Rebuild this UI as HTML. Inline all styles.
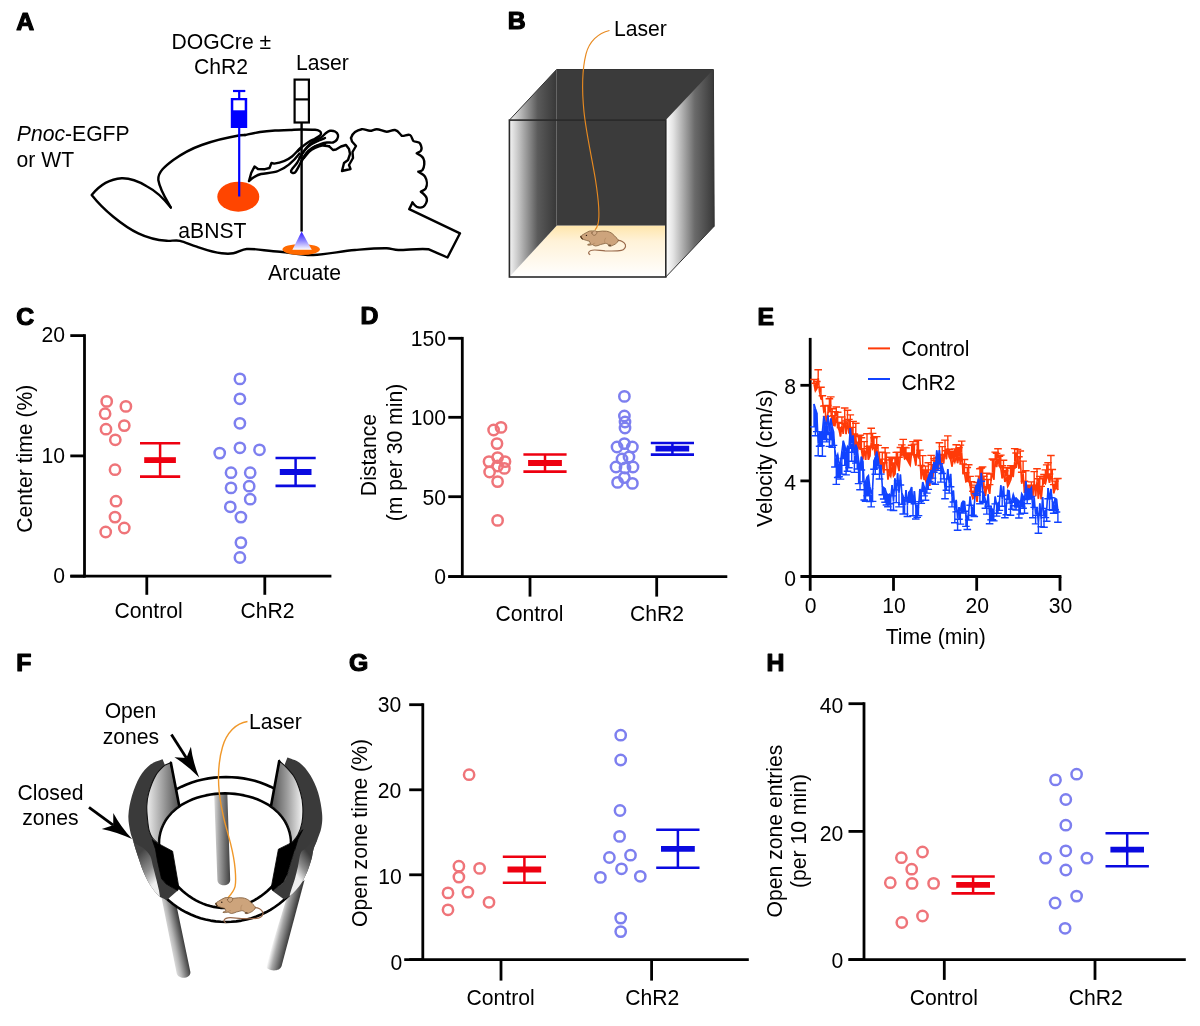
<!DOCTYPE html>
<html lang="en">
<head>
<meta charset="utf-8">
<title>Figure</title>
<style>
html,body{margin:0;padding:0;background:#fff;}
svg{display:block;}
svg text{font-family:"Liberation Sans",sans-serif;fill:#000;}
</style>
</head>
<body>
<svg width="1200" height="1026" viewBox="0 0 1200 1026">
<defs>
<linearGradient id="gLaser" x1="0" y1="0" x2="0" y2="1"><stop offset="0" stop-color="#2a14ff"/><stop offset="0.5" stop-color="#8c84ff"/><stop offset="1" stop-color="#ffffff"/></linearGradient>
<linearGradient id="gFloor" x1="0" y1="0" x2="0" y2="1"><stop offset="0" stop-color="#ffe6ac"/><stop offset="0.3" stop-color="#fff2d8"/><stop offset="1" stop-color="#ffffff"/></linearGradient>
<linearGradient id="gLeftWall" x1="0" y1="0" x2="1" y2="0"><stop offset="0" stop-color="#f4f4f4"/><stop offset="0.15" stop-color="#d0d0d0"/><stop offset="0.6" stop-color="#5a5a5a"/><stop offset="1" stop-color="#383838"/></linearGradient>
<linearGradient id="gRightWall" x1="0" y1="0" x2="1" y2="0"><stop offset="0" stop-color="#ffffff"/><stop offset="0.15" stop-color="#e4e4e4"/><stop offset="0.6" stop-color="#6a6a6a"/><stop offset="1" stop-color="#383838"/></linearGradient>
<linearGradient id="gPoleB" x1="0" y1="0" x2="1" y2="0"><stop offset="0" stop-color="#dcdcdc"/><stop offset="0.3" stop-color="#a4a4a4"/><stop offset="1" stop-color="#404040"/></linearGradient>
<linearGradient id="gPoleL" gradientUnits="userSpaceOnUse" x1="168" y1="940" x2="184" y2="936.5"><stop offset="0" stop-color="#e8e8e8"/><stop offset="0.35" stop-color="#b4b4b4"/><stop offset="1" stop-color="#2e2e2e"/></linearGradient>
<linearGradient id="gPoleR" gradientUnits="userSpaceOnUse" x1="276" y1="928" x2="292" y2="932"><stop offset="0" stop-color="#ffffff"/><stop offset="0.33" stop-color="#a8a8a8"/><stop offset="1" stop-color="#2c2c2c"/></linearGradient>
<linearGradient id="gInL" gradientUnits="userSpaceOnUse" x1="147" y1="0" x2="181" y2="0"><stop offset="0" stop-color="#ececec"/><stop offset="0.45" stop-color="#a2a2a2"/><stop offset="1" stop-color="#484848"/></linearGradient>
<linearGradient id="gInR" gradientUnits="userSpaceOnUse" x1="270" y1="0" x2="303" y2="0"><stop offset="0" stop-color="#484848"/><stop offset="0.55" stop-color="#a2a2a2"/><stop offset="1" stop-color="#f4f4f4"/></linearGradient>
<linearGradient id="gLowL" gradientUnits="userSpaceOnUse" x1="136" y1="856" x2="158" y2="880"><stop offset="0" stop-color="#444"/><stop offset="0.58" stop-color="#8e8e8e"/><stop offset="1" stop-color="#eeeeee"/></linearGradient>
<linearGradient id="gLowR" gradientUnits="userSpaceOnUse" x1="294" y1="872" x2="312" y2="858"><stop offset="0" stop-color="#eeeeee"/><stop offset="0.42" stop-color="#8e8e8e"/><stop offset="1" stop-color="#3c3c3c"/></linearGradient>
</defs>
<rect width="1200" height="1026" fill="#fff"/>
<g><text x="16.8" y="140.7" text-anchor="start" font-size="21.15" ><tspan font-style="italic">Pnoc</tspan>-EGFP</text><text x="16.6" y="166.5" text-anchor="start" font-size="21.15" >or WT</text><text x="221.3" y="49.0" text-anchor="middle" font-size="21.15" >DOGCre ±</text><text x="221.0" y="74.1" text-anchor="middle" font-size="21.15" >ChR2</text><text x="296.0" y="70.1" text-anchor="start" font-size="21.15" >Laser</text><text x="178.3" y="237.6" text-anchor="start" font-size="21.15" >aBNST</text><text x="304.5" y="279.9" text-anchor="middle" font-size="21.15" >Arcuate</text><ellipse cx="238.3" cy="196.7" rx="21" ry="15" fill="#ff4500"/><g fill="none" stroke="#000" stroke-width="2.4" stroke-linejoin="round" stroke-linecap="round"><path d="M170.8,207.5 C165,200 156,191 146.7,186.2 C138,181 130,178 121.7,178.3 C110,179 99,186 91.7,195 C98,203 105,210 113.3,216.7 C121,223 129,229 138.3,233.3 C147,237.5 157,240 166.7,240.8 C171,241.2 176,239.8 180,240.8 C185,242 191,245 196.7,246.7 C205,249.5 213,252.5 221.7,253.3 C226,253.8 229.5,253.9 233.3,253.3 C238,252.5 242,249.3 246.7,249 C257,248.4 268,251.5 280,251.7 C291,252.5 302,255.5 313.3,255 C327,254.4 341,251.2 355,250 C365,249.2 376,248.1 386.7,248.3 C391,248.4 394,250 398.3,250 C408,250 419,248.3 428.3,249.2 L447.5,257.5 L460,233.3 L409.2,209.2 L412.5,202.5"/><path d="M170.8,207.5 C166,199 160,190 158.3,180 C157.5,172 166,165.5 173.3,160 C182,153.8 191,148.8 201.7,145 C214,140.7 227,137.5 240,135.3 L245,135"/><path d="M245.0,135.0 C247.5,134.5 255.0,132.8 260.0,132.0 C265.0,131.2 270.0,130.8 275.0,130.5 C280.0,130.2 285.7,130.2 290.0,130.0 C294.3,129.8 296.8,129.5 301.0,129.5 C305.2,129.5 311.9,129.6 315.0,129.8 C318.1,130.1 318.5,130.4 319.5,131.0 C320.5,131.6 320.9,132.4 321.0,133.2 C321.1,134.0 320.8,134.8 319.8,135.7 C318.8,136.6 316.8,137.7 315.0,138.7 C313.2,139.7 311.0,140.6 309.0,141.8 C307.0,143.1 304.8,144.6 303.0,146.2 C301.2,147.8 298.8,150.4 298.0,151.2"/><path d="M249.0,181.0 L251.2,173.0 L254.5,166.5 L258.0,169.0 L265.0,169.2 L269.5,168.0 L271.5,163.0 L274.2,163.6 C280.0,162.8 287.0,160.5 292.0,156.5 C295.0,154.0 298.0,150.0 301.0,147.5 M249.0,181.0 C253.0,177.5 256.0,175.0 261.0,174.0 C267.0,173.0 274.0,172.8 278.0,171.0 C286.0,168.0 293.0,162.0 299.5,153.5"/><path d="M291.0,171.0 C291.3,169.4 295.2,165.8 297.0,163.0 C298.8,160.2 300.3,156.7 302.0,154.0 C303.7,151.3 305.2,149.1 307.0,147.0 C308.8,144.9 310.7,143.1 313.0,141.5 C315.3,139.9 318.8,138.9 321.0,137.5 C323.2,136.1 324.5,134.1 326.0,133.0 C327.5,131.9 328.5,131.1 330.0,130.8 C331.5,130.6 333.7,130.8 335.0,131.5 C336.3,132.2 337.7,133.7 338.0,135.0 C338.3,136.3 337.8,138.2 337.0,139.5 C336.2,140.8 334.7,142.0 333.0,142.5 C331.3,143.0 329.0,142.2 327.0,142.5 C325.0,142.8 323.0,143.3 321.0,144.0 C319.0,144.7 317.0,145.3 315.0,146.5 C313.0,147.7 310.8,149.2 309.0,151.0 C307.2,152.8 305.5,154.8 304.0,157.0 C302.5,159.2 301.5,161.4 300.0,164.0 C298.5,166.6 296.5,171.3 295.0,172.5 C293.5,173.7 290.7,172.6 291.0,171.0Z"/><path d="M299.5,158.0 C300.4,156.7 303.1,152.2 305.0,150.0 C306.9,147.8 308.7,146.1 311.0,144.5 C313.3,142.9 316.7,141.6 319.0,140.5 C321.3,139.4 324.0,138.4 325.0,138.0"/><path d="M301.0,162.0 C301.8,160.6 304.2,155.8 306.0,153.5 C307.8,151.2 309.8,149.4 312.0,148.0 C314.2,146.6 316.8,145.7 319.0,145.0 C321.2,144.3 324.0,144.2 325.0,144.0"/><path d="M304.0,158.0 C304.8,157.0 307.2,153.7 309.0,152.0 C310.8,150.3 312.8,149.1 315.0,148.0 C317.2,146.9 319.7,145.8 322.0,145.5 C324.3,145.2 327.8,146.1 329.0,146.2"/><path d="M329.0,146.2 L333.0,150.0 L336.0,149.5 L341.0,146.5 L346.0,145.0 L349.0,149.0 L350.0,154.0 L348.0,160.0 L344.0,163.0 L342.0,171.0 L350.5,169.0 L349.0,165.0 L353.0,158.0 L352.5,152.0 L356.0,146.0 L352.0,141.5 L351.0,138.0"/><path d="M351,138 C351.5,136 353,133.5 355,132 C357,130.5 359.5,129.6 361.7,129.2 C364.5,128.7 367,130.8 370,130.8 C372.5,130.8 374,129.2 376.7,129.2 C380,129.2 383.5,131.7 386.7,131.7 C389.5,131.7 392,129.7 395,130 C398.5,130.5 400,134.5 401.7,135.8 C404,136.5 407.5,134 410,135 C412,136 412,139.5 413.3,140.8 C415,142.3 419,141.5 420,143.3 C421.5,146 422,149 420.8,150.8 C419.8,152.3 417.5,152.3 416.7,153.3 C419,154.5 422,156 423.3,158.3 C425,161.5 424.5,167 422.5,170 C421.5,171.3 419.5,171.2 418.3,171.7 C420.5,173 423.7,174.5 425,176.7 C427,180 427.5,185 425.8,188.3 C424.8,190 422.3,190.7 420.8,191.7 C423,193.5 425.8,195.5 426.7,198.3 C427.5,201 425.7,205 423.3,206.7 C421.5,207.8 418.5,207.7 416.7,206.7 C415,205.7 413.8,204 412.5,202.5"/></g><g><line x1="239.2" y1="127" x2="239.2" y2="196.5" stroke="#0000ff" stroke-width="2.2"/><rect x="230.8" y="98" width="16.4" height="30" fill="#0000ff"/><rect x="233.3" y="100.3" width="11.4" height="10" fill="#fff"/><line x1="239.2" y1="91" x2="239.2" y2="99" stroke="#0000ff" stroke-width="2.2"/><line x1="233" y1="91" x2="245.3" y2="91" stroke="#0000ff" stroke-width="2.2"/></g><g stroke="#000" fill="none" stroke-width="2.2"><rect x="294.6" y="79.6" width="14.3" height="42.9" fill="#fff"/><line x1="294.6" y1="99.4" x2="308.9" y2="99.4"/><line x1="301.6" y1="123" x2="301.6" y2="231.6" stroke-width="2.4"/></g><ellipse cx="301.2" cy="249.5" rx="18.7" ry="5.5" fill="#ff6a00"/><polygon points="301.6,231.5 292.4,249.8 311.8,249.8" fill="url(#gLaser)"/></g>
<g><rect x="556.6" y="69.5" width="156.8" height="156.2" fill="#3b3b3b"/><polygon points="509.4,277.0 556.6,225.7 665.8,225.7 665.8,277.0" fill="url(#gFloor)"/><polygon points="509.4,120.1 556.6,69.5 556.6,225.7 509.4,277.0" fill="url(#gLeftWall)"/><polygon points="665.8,120.1 713.4,69.5 714.1999999999999,226.2 665.8,277.0" fill="url(#gRightWall)"/><rect x="509.4" y="120.1" width="156.4" height="156.9" fill="none" stroke="#2a2a2a" stroke-width="1.6"/><polyline points="509.4,120.1 556.6,69.5 713.4,69.5 714.1999999999999,226.2 665.8,277.0" fill="none" stroke="#333" stroke-width="1"/><path d="M609.5,30.5 C598,33 589,42 586,54 C581.5,72 582,92 584,112 C586.5,135 592,158 595.5,180 C598,196 600.5,214 598,224 C597.2,227 596,228.8 595,230" fill="none" stroke="#e88a20" stroke-width="1.15"/><g transform="translate(570,220) scale(0.058343057176196034)" stroke-linejoin="round" stroke-linecap="round"><path d="M815,350 C870,345 930,380 950,425 C962,470 925,510 880,520 C800,538 690,530 600,530 C540,528 470,512 420,514 C370,516 330,530 320,555 C316,570 325,585 340,592" fill="none" stroke="#9a6a4c" stroke-width="20"/><path d="M185,290 C190,268 210,255 232,245 C262,226 295,205 330,192 C360,184 395,186 425,196 C450,202 465,200 482,198 C530,190 580,186 622,192 C665,198 700,215 722,232 C750,255 772,280 792,302 C812,322 830,335 828,352 C826,372 812,384 800,392 C785,408 765,422 742,430 C722,440 700,452 680,446 C665,440 660,425 650,415 C630,402 612,398 598,402 C570,408 545,415 520,422 C495,432 468,446 440,446 C420,444 400,432 385,422 C360,428 325,436 302,428 C298,418 330,410 352,408 C345,392 338,375 330,362 C300,355 268,348 240,336 C215,332 192,315 185,290 Z" fill="#cda47c" stroke="#7b5836" stroke-width="13"/><path d="M600,400 C585,370 590,335 610,310 M385,420 C395,405 410,398 425,398" fill="none" stroke="#a9805a" stroke-width="9"/><path d="M375,222 C385,190 425,170 455,195 C470,212 455,250 425,262 C400,268 380,250 375,222 Z" fill="#d2ab86" stroke="#7b5836" stroke-width="11"/><circle cx="282" cy="264" r="12" fill="#2a1a10"/><path d="M186,280 C192,300 200,318 214,326" fill="none" stroke="#4a3018" stroke-width="18"/><ellipse cx="680" cy="436" rx="26" ry="16" fill="#6e5238"/></g><text x="614.0" y="35.5" text-anchor="start" font-size="21.15" >Laser</text></g>
<g><g stroke="#000" stroke-width="2.8" fill="none"><line x1="84.5" y1="334.2" x2="84.5" y2="577.6"/><line x1="70.3" y1="576.2" x2="331.4" y2="576.2"/><line x1="70.3" y1="335.6" x2="84.5" y2="335.6"/><line x1="70.3" y1="455.9" x2="84.5" y2="455.9"/><line x1="70.3" y1="576.2" x2="84.5" y2="576.2"/><line x1="146.8" y1="576.2" x2="146.8" y2="594.8000000000001"/><line x1="264.8" y1="576.2" x2="264.8" y2="594.8000000000001"/></g><text x="65.0" y="341.9" text-anchor="end" font-size="21.15" >20</text><text x="65.0" y="462.6" text-anchor="end" font-size="21.15" >10</text><text x="65.0" y="583.4" text-anchor="end" font-size="21.15" >0</text><text x="148.6" y="617.5" text-anchor="middle" font-size="21.15" >Control</text><text x="267.6" y="617.5" text-anchor="middle" font-size="21.15" >ChR2</text><text transform="translate(32.0,458.7) rotate(-90)" text-anchor="middle" font-size="21.15">Center time (%)</text><g stroke="#ef7479" fill="none" stroke-width="2.5"><circle cx="106.7" cy="401.4" r="5.15"/><circle cx="125.9" cy="406.4" r="5.15"/><circle cx="105.1" cy="413.7" r="5.15"/><circle cx="124.3" cy="425.6" r="5.15"/><circle cx="106.0" cy="429.2" r="5.15"/><circle cx="115.3" cy="439.8" r="5.15"/><circle cx="115.0" cy="469.7" r="5.15"/><circle cx="116.0" cy="501.2" r="5.15"/><circle cx="115.0" cy="517.1" r="5.15"/><circle cx="124.3" cy="528.0" r="5.15"/><circle cx="105.7" cy="532.0" r="5.15"/></g><g stroke="#7d7fef" fill="none" stroke-width="2.5"><circle cx="239.9" cy="378.9" r="5.15"/><circle cx="239.9" cy="398.8" r="5.15"/><circle cx="239.9" cy="423.3" r="5.15"/><circle cx="239.9" cy="447.8" r="5.15"/><circle cx="259.5" cy="449.8" r="5.15"/><circle cx="219.7" cy="453.1" r="5.15"/><circle cx="231.0" cy="472.7" r="5.15"/><circle cx="250.2" cy="472.7" r="5.15"/><circle cx="231.0" cy="487.9" r="5.15"/><circle cx="249.2" cy="486.2" r="5.15"/><circle cx="250.2" cy="499.2" r="5.15"/><circle cx="230.3" cy="506.8" r="5.15"/><circle cx="240.9" cy="517.1" r="5.15"/><circle cx="240.9" cy="542.6" r="5.15"/><circle cx="239.9" cy="557.5" r="5.15"/></g><g stroke="#ee0010" fill="none"><line x1="160.1" y1="443.2" x2="160.1" y2="476.6" stroke-width="2.5"/><line x1="140.0" y1="443.2" x2="180.2" y2="443.2" stroke-width="2.5"/><line x1="140.0" y1="476.6" x2="180.2" y2="476.6" stroke-width="2.6"/><line x1="144.2" y1="460.1" x2="175.9" y2="460.1" stroke-width="5.8"/></g><g stroke="#0a0ae0" fill="none"><line x1="295.6" y1="458.1" x2="295.6" y2="485.9" stroke-width="2.5"/><line x1="275.5" y1="458.1" x2="315.7" y2="458.1" stroke-width="2.5"/><line x1="275.5" y1="485.9" x2="315.7" y2="485.9" stroke-width="2.6"/><line x1="279.8" y1="472.0" x2="311.5" y2="472.0" stroke-width="5.8"/></g></g>
<g><g stroke="#000" stroke-width="2.8" fill="none"><line x1="462.3" y1="336.9" x2="462.3" y2="578.0"/><line x1="448.3" y1="576.6" x2="727.3" y2="576.6"/><line x1="448.3" y1="338.3" x2="462.3" y2="338.3"/><line x1="448.3" y1="417.3" x2="462.3" y2="417.3"/><line x1="448.3" y1="496.7" x2="462.3" y2="496.7"/><line x1="448.3" y1="576.6" x2="462.3" y2="576.6"/><line x1="530" y1="576.6" x2="530" y2="596.6"/><line x1="656.7" y1="576.6" x2="656.7" y2="596.6"/></g><text x="446.0" y="345.7" text-anchor="end" font-size="21.15" >150</text><text x="446.0" y="425.3" text-anchor="end" font-size="21.15" >100</text><text x="446.0" y="504.7" text-anchor="end" font-size="21.15" >50</text><text x="446.0" y="584.1" text-anchor="end" font-size="21.15" >0</text><text x="529.5" y="620.7" text-anchor="middle" font-size="21.15" >Control</text><text x="657.1" y="620.7" text-anchor="middle" font-size="21.15" >ChR2</text><text transform="translate(375.5,455.0) rotate(-90)" text-anchor="middle" font-size="21.15">Distance</text><text transform="translate(401.7,452.5) rotate(-90)" text-anchor="middle" font-size="21.15">(m per 30 min)</text><g stroke="#ef7479" fill="none" stroke-width="2.5"><circle cx="501.0" cy="427.4" r="5.15"/><circle cx="493.6" cy="430.0" r="5.15"/><circle cx="497.0" cy="443.6" r="5.15"/><circle cx="497.6" cy="457.6" r="5.15"/><circle cx="489.0" cy="461.6" r="5.15"/><circle cx="505.0" cy="461.6" r="5.15"/><circle cx="497.6" cy="466.0" r="5.15"/><circle cx="489.6" cy="472.0" r="5.15"/><circle cx="504.4" cy="468.4" r="5.15"/><circle cx="497.6" cy="481.6" r="5.15"/><circle cx="497.6" cy="520.4" r="5.15"/></g><g stroke="#7d7fef" fill="none" stroke-width="2.5"><circle cx="624.4" cy="396.4" r="5.15"/><circle cx="624.4" cy="416.0" r="5.15"/><circle cx="625.0" cy="422.0" r="5.15"/><circle cx="625.0" cy="428.0" r="5.15"/><circle cx="624.4" cy="443.6" r="5.15"/><circle cx="617.0" cy="447.0" r="5.15"/><circle cx="632.4" cy="447.0" r="5.15"/><circle cx="622.0" cy="459.0" r="5.15"/><circle cx="629.0" cy="457.0" r="5.15"/><circle cx="616.0" cy="467.0" r="5.15"/><circle cx="633.0" cy="467.0" r="5.15"/><circle cx="625.0" cy="468.0" r="5.15"/><circle cx="624.4" cy="477.6" r="5.15"/><circle cx="617.6" cy="482.4" r="5.15"/><circle cx="632.4" cy="483.4" r="5.15"/></g><g stroke="#ee0010" fill="none"><line x1="545.0" y1="454.4" x2="545.0" y2="471.6" stroke-width="2.5"/><line x1="523.4" y1="454.4" x2="566.6" y2="454.4" stroke-width="2.5"/><line x1="523.4" y1="471.6" x2="566.6" y2="471.6" stroke-width="2.6"/><line x1="528.1" y1="463.0" x2="561.9" y2="463.0" stroke-width="5.8"/></g><g stroke="#0a0ae0" fill="none"><line x1="672.4" y1="443.0" x2="672.4" y2="454.6" stroke-width="2.5"/><line x1="650.8" y1="443.0" x2="694.0" y2="443.0" stroke-width="2.5"/><line x1="650.8" y1="454.6" x2="694.0" y2="454.6" stroke-width="2.6"/><line x1="655.5" y1="448.6" x2="689.2" y2="448.6" stroke-width="5.8"/></g></g>
<g><g stroke="#000" stroke-width="2.8" fill="none"><line x1="810.2" y1="337.9" x2="810.2" y2="590.8"/><line x1="800.4" y1="576.5" x2="1061.4" y2="576.5"/><line x1="800.4" y1="480.9" x2="810.2" y2="480.9"/><line x1="800.4" y1="385.3" x2="810.2" y2="385.3"/><line x1="893.5" y1="576.5" x2="893.5" y2="590.8"/><line x1="976.7" y1="576.5" x2="976.7" y2="590.8"/><line x1="1060.0" y1="576.5" x2="1060.0" y2="590.8"/></g><text x="796.0" y="586.4" text-anchor="end" font-size="21.15" >0</text><text x="796.0" y="489.7" text-anchor="end" font-size="21.15" >4</text><text x="796.0" y="394.2" text-anchor="end" font-size="21.15" >8</text><text x="810.7" y="612.9" text-anchor="middle" font-size="21.15" >0</text><text x="894.0" y="612.9" text-anchor="middle" font-size="21.15" >10</text><text x="977.2" y="612.9" text-anchor="middle" font-size="21.15" >20</text><text x="1060.5" y="612.9" text-anchor="middle" font-size="21.15" >30</text><text x="935.8" y="644.2" text-anchor="middle" font-size="21.15" >Time (min)</text><text transform="translate(772.3,458.2) rotate(-90)" text-anchor="middle" font-size="21.15">Velocity (cm/s)</text><g stroke="#ff3a08" fill="none" stroke-width="1.6" stroke-linejoin="miter"><path d="M814.0,384.1 L815.4,391.0 L816.8,388.8 L818.2,377.3 L819.6,392.2 L821.0,399.1 L822.4,399.9 L823.8,411.9 L825.2,410.2 L826.6,425.6 L828.0,412.5 L829.4,411.6 L830.8,410.3 L832.2,422.1 L833.5,425.4 L834.9,425.8 L836.3,416.5 L837.7,427.1 L839.1,430.1 L840.5,436.5 L841.9,425.8 L843.3,433.9 L844.7,417.6 L846.1,434.1 L847.5,421.7 L848.9,433.0 L850.3,433.0 L851.7,439.5 L853.1,433.6 L854.4,449.0 L855.8,436.8 L857.2,452.4 L858.6,445.6 L860.0,449.2 L861.4,449.3 L862.8,459.5 L864.2,449.7 L865.6,459.9 L867.0,444.3 L868.4,459.8 L869.8,456.4 L871.2,442.5 L872.6,448.8 L874.0,446.4 L875.3,455.6 L876.7,448.9 L878.1,455.3 L879.5,462.0 L880.9,466.5 L882.3,466.1 L883.7,473.2 L885.1,460.9 L886.5,461.8 L887.9,479.5 L889.3,473.6 L890.7,476.4 L892.1,465.9 L893.5,476.2 L894.9,474.3 L896.3,462.2 L897.6,464.8 L899.0,471.1 L900.4,455.3 L901.8,455.6 L903.2,453.0 L904.6,459.0 L906.0,458.1 L907.4,460.2 L908.8,462.9 L910.2,465.3 L911.6,453.1 L913.0,453.1 L914.4,457.9 L915.8,465.5 L917.2,450.1 L918.5,457.6 L919.9,459.3 L921.3,479.2 L922.7,468.8 L924.1,479.3 L925.5,479.8 L926.9,485.0 L928.3,473.3 L929.7,485.9 L931.1,467.1 L932.5,479.2 L933.9,467.9 L935.3,472.3 L936.7,469.7 L938.1,468.8 L939.4,456.5 L940.8,468.3 L942.2,455.2 L943.6,463.5 L945.0,450.5 L946.4,459.2 L947.8,447.5 L949.2,457.2 L950.6,459.5 L952.0,466.5 L953.4,458.8 L954.8,462.2 L956.2,456.9 L957.6,463.2 L959.0,455.9 L960.4,463.4 L961.7,452.7 L963.1,473.7 L964.5,473.7 L965.9,481.8 L967.3,481.2 L968.7,478.6 L970.1,485.9 L971.5,494.5 L972.9,498.6 L974.3,496.8 L975.7,493.4 L977.1,501.8 L978.5,486.0 L979.9,487.1 L981.3,481.4 L982.6,480.4 L984.0,488.5 L985.4,495.8 L986.8,486.9 L988.2,488.4 L989.6,493.8 L991.0,481.1 L992.4,472.4 L993.8,479.7 L995.2,460.8 L996.6,467.1 L998.0,458.5 L999.4,466.2 L1000.8,468.6 L1002.2,478.3 L1003.5,473.0 L1004.9,482.0 L1006.3,476.8 L1007.7,486.4 L1009.1,483.8 L1010.5,480.5 L1011.9,475.6 L1013.3,476.3 L1014.7,461.8 L1016.1,467.8 L1017.5,457.1 L1018.9,468.7 L1020.3,459.7 L1021.7,483.6 L1023.1,473.3 L1024.5,493.0 L1025.8,483.6 L1027.2,496.8 L1028.6,497.6 L1030.0,493.8 L1031.4,490.0 L1032.8,496.2 L1034.2,481.4 L1035.6,496.3 L1037.0,481.4 L1038.4,498.7 L1039.8,486.7 L1041.2,499.2 L1042.6,485.2 L1044.0,482.4 L1045.4,483.7 L1046.7,478.4 L1048.1,475.9 L1049.5,482.8 L1050.9,475.1 L1052.3,480.7 L1053.7,493.2 L1055.1,489.1 L1056.5,487.6 L1057.9,490.1"/><path d="M814.0,384.1V379.5M810.2,379.5H817.8M815.4,391.0V383.2M811.6,383.2H819.2M816.8,388.8V381.5M813.0,381.5H820.6M818.2,377.3V369.7M814.4,369.7H822.0M819.6,392.2V387.2M815.8,387.2H823.4M821.0,399.1V387.2M817.2,387.2H824.8M822.4,399.9V395.8M818.6,395.8H826.2M823.8,411.9V406.1M820.0,406.1H827.6M825.2,410.2V405.6M821.4,405.6H829.0M826.6,425.6V416.4M822.8,416.4H830.4M828.0,412.5V405.5M824.2,405.5H831.8M829.4,411.6V398.7M825.6,398.7H833.2M830.8,410.3V396.9M827.0,396.9H834.6M832.2,422.1V408.8M828.4,408.8H836.0M833.5,425.4V415.8M829.7,415.8H837.3M834.9,425.8V411.8M831.1,411.8H838.7M836.3,416.5V407.0M832.5,407.0H840.1M837.7,427.1V412.2M833.9,412.2H841.5M839.1,430.1V422.4M835.3,422.4H842.9M840.5,436.5V427.5M836.7,427.5H844.3M841.9,425.8V417.0M838.1,417.0H845.7M843.3,433.9V423.3M839.5,423.3H847.1M844.7,417.6V408.0M840.9,408.0H848.5M846.1,434.1V420.9M842.3,420.9H849.9M847.5,421.7V410.3M843.7,410.3H851.3M848.9,433.0V419.4M845.1,419.4H852.7M850.3,433.0V414.9M846.5,414.9H854.1M851.7,439.5V427.4M847.9,427.4H855.5M853.1,433.6V421.4M849.3,421.4H856.9M854.4,449.0V434.0M850.6,434.0H858.2M855.8,436.8V423.3M852.0,423.3H859.6M857.2,452.4V442.1M853.4,442.1H861.0M858.6,445.6V436.5M854.8,436.5H862.4M860.0,449.2V435.3M856.2,435.3H863.8M861.4,449.3V437.7M857.6,437.7H865.2M862.8,459.5V448.6M859.0,448.6H866.6M864.2,449.7V441.6M860.4,441.6H868.0M865.6,459.9V451.4M861.8,451.4H869.4M867.0,444.3V433.8M863.2,433.8H870.8M868.4,459.8V446.5M864.6,446.5H872.2M869.8,456.4V446.3M866.0,446.3H873.6M871.2,442.5V428.2M867.4,428.2H875.0M872.6,448.8V433.4M868.8,433.4H876.4M874.0,446.4V437.8M870.2,437.8H877.8M875.3,455.6V444.6M871.5,444.6H879.1M876.7,448.9V436.6M872.9,436.6H880.5M878.1,455.3V445.4M874.3,445.4H881.9M879.5,462.0V452.4M875.7,452.4H883.3M880.9,466.5V459.1M877.1,459.1H884.7M882.3,466.1V452.3M878.5,452.3H886.1M883.7,473.2V462.7M879.9,462.7H887.5M885.1,460.9V447.8M881.3,447.8H888.9M886.5,461.8V452.9M882.7,452.9H890.3M887.9,479.5V469.7M884.1,469.7H891.7M889.3,473.6V460.0M885.5,460.0H893.1M890.7,476.4V457.3M886.9,457.3H894.5M892.1,465.9V458.6M888.3,458.6H895.9M893.5,476.2V463.0M889.7,463.0H897.3M894.9,474.3V457.2M891.1,457.2H898.7M896.3,462.2V452.4M892.5,452.4H900.1M897.6,464.8V452.1M893.8,452.1H901.4M899.0,471.1V457.3M895.2,457.3H902.8M900.4,455.3V447.5M896.6,447.5H904.2M901.8,455.6V444.9M898.0,444.9H905.6M903.2,453.0V439.4M899.4,439.4H907.0M904.6,459.0V447.4M900.8,447.4H908.4M906.0,458.1V447.9M902.2,447.9H909.8M907.4,460.2V453.0M903.6,453.0H911.2M908.8,462.9V454.3M905.0,454.3H912.6M910.2,465.3V453.8M906.4,453.8H914.0M911.6,453.1V445.2M907.8,445.2H915.4M913.0,453.1V441.6M909.2,441.6H916.8M914.4,457.9V444.1M910.6,444.1H918.2M915.8,465.5V454.8M912.0,454.8H919.6M917.2,450.1V440.3M913.4,440.3H921.0M918.5,457.6V440.4M914.7,440.4H922.3M919.9,459.3V450.1M916.1,450.1H923.7M921.3,479.2V465.5M917.5,465.5H925.1M922.7,468.8V455.6M918.9,455.6H926.5M924.1,479.3V470.7M920.3,470.7H927.9M925.5,479.8V466.1M921.7,466.1H929.3M926.9,485.0V469.9M923.1,469.9H930.7M928.3,473.3V462.8M924.5,462.8H932.1M929.7,485.9V476.0M925.9,476.0H933.5M931.1,467.1V455.4M927.3,455.4H934.9M932.5,479.2V464.6M928.7,464.6H936.3M933.9,467.9V458.6M930.1,458.6H937.7M935.3,472.3V460.5M931.5,460.5H939.1M936.7,469.7V457.1M932.9,457.1H940.5M938.1,468.8V458.3M934.3,458.3H941.9M939.4,456.5V442.7M935.6,442.7H943.2M940.8,468.3V455.6M937.0,455.6H944.6M942.2,455.2V446.6M938.4,446.6H946.0M943.6,463.5V454.4M939.8,454.4H947.4M945.0,450.5V440.1M941.2,440.1H948.8M946.4,459.2V450.7M942.6,450.7H950.2M947.8,447.5V435.9M944.0,435.9H951.6M949.2,457.2V449.2M945.4,449.2H953.0M950.6,459.5V451.1M946.8,451.1H954.4M952.0,466.5V452.5M948.2,452.5H955.8M953.4,458.8V451.4M949.6,451.4H957.2M954.8,462.2V448.9M951.0,448.9H958.6M956.2,456.9V444.8M952.4,444.8H960.0M957.6,463.2V449.7M953.8,449.7H961.4M959.0,455.9V447.6M955.2,447.6H962.8M960.4,463.4V445.1M956.6,445.1H964.2M961.7,452.7V441.1M957.9,441.1H965.5M963.1,473.7V464.0M959.3,464.0H966.9M964.5,473.7V459.5M960.7,459.5H968.3M965.9,481.8V472.8M962.1,472.8H969.7M967.3,481.2V467.5M963.5,467.5H971.1M968.7,478.6V464.8M964.9,464.8H972.5M970.1,485.9V476.4M966.3,476.4H973.9M971.5,494.5V481.8M967.7,481.8H975.3M972.9,498.6V491.2M969.1,491.2H976.7M974.3,496.8V487.2M970.5,487.2H978.1M975.7,493.4V485.1M971.9,485.1H979.5M977.1,501.8V482.5M973.3,482.5H980.9M978.5,486.0V476.1M974.7,476.1H982.3M979.9,487.1V468.8M976.1,468.8H983.7M981.3,481.4V468.1M977.5,468.1H985.1M982.6,480.4V466.9M978.8,466.9H986.4M984.0,488.5V476.3M980.2,476.3H987.8M985.4,495.8V486.4M981.6,486.4H989.2M986.8,486.9V473.2M983.0,473.2H990.6M988.2,488.4V479.5M984.4,479.5H992.0M989.6,493.8V484.6M985.8,484.6H993.4M991.0,481.1V474.0M987.2,474.0H994.8M992.4,472.4V459.0M988.6,459.0H996.2M993.8,479.7V460.1M990.0,460.1H997.6M995.2,460.8V452.1M991.4,452.1H999.0M996.6,467.1V453.4M992.8,453.4H1000.4M998.0,458.5V448.8M994.2,448.8H1001.8M999.4,466.2V456.2M995.6,456.2H1003.2M1000.8,468.6V455.1M997.0,455.1H1004.6M1002.2,478.3V465.7M998.4,465.7H1006.0M1003.5,473.0V460.2M999.7,460.2H1007.3M1004.9,482.0V470.8M1001.1,470.8H1008.7M1006.3,476.8V467.6M1002.5,467.6H1010.1M1007.7,486.4V467.9M1003.9,467.9H1011.5M1009.1,483.8V475.4M1005.3,475.4H1012.9M1010.5,480.5V465.8M1006.7,465.8H1014.3M1011.9,475.6V468.3M1008.1,468.3H1015.7M1013.3,476.3V467.0M1009.5,467.0H1017.1M1014.7,461.8V448.6M1010.9,448.6H1018.5M1016.1,467.8V453.0M1012.3,453.0H1019.9M1017.5,457.1V449.4M1013.7,449.4H1021.3M1018.9,468.7V456.7M1015.1,456.7H1022.7M1020.3,459.7V451.0M1016.5,451.0H1024.1M1021.7,483.6V472.2M1017.9,472.2H1025.5M1023.1,473.3V461.1M1019.3,461.1H1026.9M1024.5,493.0V481.3M1020.7,481.3H1028.3M1025.8,483.6V470.7M1022.0,470.7H1029.6M1027.2,496.8V485.8M1023.4,485.8H1031.0M1028.6,497.6V485.5M1024.8,485.5H1032.4M1030.0,493.8V485.1M1026.2,485.1H1033.8M1031.4,490.0V481.9M1027.6,481.9H1035.2M1032.8,496.2V485.1M1029.0,485.1H1036.6M1034.2,481.4V471.6M1030.4,471.6H1038.0M1035.6,496.3V485.7M1031.8,485.7H1039.4M1037.0,481.4V468.7M1033.2,468.7H1040.8M1038.4,498.7V478.7M1034.6,478.7H1042.2M1039.8,486.7V476.4M1036.0,476.4H1043.6M1041.2,499.2V486.4M1037.4,486.4H1045.0M1042.6,485.2V477.9M1038.8,477.9H1046.4M1044.0,482.4V474.5M1040.2,474.5H1047.8M1045.4,483.7V469.9M1041.6,469.9H1049.2M1046.7,478.4V464.9M1042.9,464.9H1050.5M1048.1,475.9V462.8M1044.3,462.8H1051.9M1049.5,482.8V474.0M1045.7,474.0H1053.3M1050.9,475.1V455.5M1047.1,455.5H1054.7M1052.3,480.7V469.5M1048.5,469.5H1056.1M1053.7,493.2V484.6M1049.9,484.6H1057.5M1055.1,489.1V481.1M1051.3,481.1H1058.9M1056.5,487.6V478.9M1052.7,478.9H1060.3M1057.9,490.1V478.5M1054.1,478.5H1061.7" stroke-width="1.4"/></g><g stroke="#1143ff" fill="none" stroke-width="1.6" stroke-linejoin="miter"><path d="M814.0,403.9 L815.4,408.8 L816.8,413.0 L818.2,443.3 L819.6,432.4 L821.0,432.0 L822.4,431.6 L823.8,416.4 L825.2,421.7 L826.6,425.9 L828.0,415.4 L829.4,431.3 L830.8,418.5 L832.2,426.5 L833.5,431.6 L834.9,450.7 L836.3,458.2 L837.7,454.6 L839.1,464.0 L840.5,462.4 L841.9,451.4 L843.3,440.8 L844.7,445.4 L846.1,452.1 L847.5,446.6 L848.9,448.9 L850.3,428.1 L851.7,443.4 L853.1,435.5 L854.4,455.4 L855.8,444.7 L857.2,448.4 L858.6,460.6 L860.0,469.6 L861.4,456.7 L862.8,461.2 L864.2,484.0 L865.6,481.6 L867.0,477.2 L868.4,475.6 L869.8,486.9 L871.2,494.4 L872.6,488.1 L874.0,460.6 L875.3,457.6 L876.7,451.6 L878.1,458.4 L879.5,468.7 L880.9,464.9 L882.3,486.4 L883.7,487.5 L885.1,488.7 L886.5,493.2 L887.9,495.1 L889.3,494.2 L890.7,498.0 L892.1,485.0 L893.5,501.5 L894.9,478.4 L896.3,493.1 L897.6,473.3 L899.0,493.4 L900.4,474.6 L901.8,493.1 L903.2,496.3 L904.6,505.8 L906.0,490.1 L907.4,505.2 L908.8,492.3 L910.2,490.9 L911.6,487.1 L913.0,504.5 L914.4,491.2 L915.8,506.5 L917.2,505.6 L918.5,506.7 L919.9,489.0 L921.3,494.9 L922.7,482.1 L924.1,486.5 L925.5,492.0 L926.9,481.3 L928.3,477.4 L929.7,473.4 L931.1,470.7 L932.5,470.9 L933.9,462.0 L935.3,471.4 L936.7,450.4 L938.1,460.2 L939.4,450.2 L940.8,470.7 L942.2,465.9 L943.6,471.1 L945.0,487.9 L946.4,481.9 L947.8,469.0 L949.2,483.7 L950.6,473.9 L952.0,496.9 L953.4,490.6 L954.8,510.3 L956.2,499.9 L957.6,518.2 L959.0,507.2 L960.4,511.4 L961.7,503.0 L963.1,501.2 L964.5,501.7 L965.9,515.0 L967.3,520.3 L968.7,511.7 L970.1,496.5 L971.5,507.9 L972.9,507.6 L974.3,504.8 L975.7,486.2 L977.1,484.7 L978.5,478.7 L979.9,495.6 L981.3,472.9 L982.6,490.8 L984.0,494.2 L985.4,500.2 L986.8,505.3 L988.2,494.3 L989.6,515.1 L991.0,507.4 L992.4,509.4 L993.8,511.0 L995.2,496.6 L996.6,504.3 L998.0,503.0 L999.4,501.8 L1000.8,485.3 L1002.2,499.2 L1003.5,486.3 L1004.9,506.5 L1006.3,506.9 L1007.7,490.4 L1009.1,490.9 L1010.5,504.4 L1011.9,500.6 L1013.3,494.4 L1014.7,498.7 L1016.1,497.9 L1017.5,499.5 L1018.9,500.7 L1020.3,504.2 L1021.7,493.8 L1023.1,496.1 L1024.5,501.5 L1025.8,481.1 L1027.2,491.6 L1028.6,488.8 L1030.0,489.6 L1031.4,487.6 L1032.8,510.3 L1034.2,497.6 L1035.6,514.7 L1037.0,507.7 L1038.4,523.5 L1039.8,503.4 L1041.2,519.7 L1042.6,497.1 L1044.0,516.8 L1045.4,510.5 L1046.7,509.4 L1048.1,488.1 L1049.5,500.3 L1050.9,488.9 L1052.3,500.9 L1053.7,504.8 L1055.1,498.4 L1056.5,499.3 L1057.9,510.8"/><path d="M814.0,403.9V426.9M810.2,426.9H817.8M815.4,408.8V435.7M811.6,435.7H819.2M816.8,413.0V431.6M813.0,431.6H820.6M818.2,443.3V455.8M814.4,455.8H822.0M819.6,432.4V446.2M815.8,446.2H823.4M821.0,432.0V445.8M817.2,445.8H824.8M822.4,431.6V456.3M818.6,456.3H826.2M823.8,416.4V438.8M820.0,438.8H827.6M825.2,421.7V439.5M821.4,439.5H829.0M826.6,425.9V441.9M822.8,441.9H830.4M828.0,415.4V434.6M824.2,434.6H831.8M829.4,431.3V446.4M825.6,446.4H833.2M830.8,418.5V439.7M827.0,439.7H834.6M832.2,426.5V447.2M828.4,447.2H836.0M833.5,431.6V445.4M829.7,445.4H837.3M834.9,450.7V467.0M831.1,467.0H838.7M836.3,458.2V484.4M832.5,484.4H840.1M837.7,454.6V477.5M833.9,477.5H841.5M839.1,464.0V476.8M835.3,476.8H842.9M840.5,462.4V479.1M836.7,479.1H844.3M841.9,451.4V474.1M838.1,474.1H845.7M843.3,440.8V458.5M839.5,458.5H847.1M844.7,445.4V465.4M840.9,465.4H848.5M846.1,452.1V474.9M842.3,474.9H849.9M847.5,446.6V471.3M843.7,471.3H851.3M848.9,448.9V467.8M845.1,467.8H852.7M850.3,428.1V448.3M846.5,448.3H854.1M851.7,443.4V461.2M847.9,461.2H855.5M853.1,435.5V452.3M849.3,452.3H856.9M854.4,455.4V472.4M850.6,472.4H858.2M855.8,444.7V463.1M852.0,463.1H859.6M857.2,448.4V469.0M853.4,469.0H861.0M858.6,460.6V483.6M854.8,483.6H862.4M860.0,469.6V489.7M856.2,489.7H863.8M861.4,456.7V470.0M857.6,470.0H865.2M862.8,461.2V481.9M859.0,481.9H866.6M864.2,484.0V500.0M860.4,500.0H868.0M865.6,481.6V501.2M861.8,501.2H869.4M867.0,477.2V495.7M863.2,495.7H870.8M868.4,475.6V495.9M864.6,495.9H872.2M869.8,486.9V501.6M866.0,501.6H873.6M871.2,494.4V506.9M867.4,506.9H875.0M872.6,488.1V501.4M868.8,501.4H876.4M874.0,460.6V469.2M870.2,469.2H877.8M875.3,457.6V474.3M871.5,474.3H879.1M876.7,451.6V467.9M872.9,467.9H880.5M878.1,458.4V465.9M874.3,465.9H881.9M879.5,468.7V479.0M875.7,479.0H883.3M880.9,464.9V474.1M877.1,474.1H884.7M882.3,486.4V494.7M878.5,494.7H886.1M883.7,487.5V499.0M879.9,499.0H887.5M885.1,488.7V502.2M881.3,502.2H888.9M886.5,493.2V505.0M882.7,505.0H890.3M887.9,495.1V506.7M884.1,506.7H891.7M889.3,494.2V503.8M885.5,503.8H893.1M890.7,498.0V509.9M886.9,509.9H894.5M892.1,485.0V495.9M888.3,495.9H895.9M893.5,501.5V510.5M889.7,510.5H897.3M894.9,478.4V489.9M891.1,489.9H898.7M896.3,493.1V502.6M892.5,502.6H900.1M897.6,473.3V480.9M893.8,480.9H901.4M899.0,493.4V506.9M895.2,506.9H902.8M900.4,474.6V485.0M896.6,485.0H904.2M901.8,493.1V504.2M898.0,504.2H905.6M903.2,496.3V514.0M899.4,514.0H907.0M904.6,505.8V514.0M900.8,514.0H908.4M906.0,490.1V497.6M902.2,497.6H909.8M907.4,505.2V516.5M903.6,516.5H911.2M908.8,492.3V501.0M905.0,501.0H912.6M910.2,490.9V500.0M906.4,500.0H914.0M911.6,487.1V502.3M907.8,502.3H915.4M913.0,504.5V515.8M909.2,515.8H916.8M914.4,491.2V503.7M910.6,503.7H918.2M915.8,506.5V519.0M912.0,519.0H919.6M917.2,505.6V517.4M913.4,517.4H921.0M918.5,506.7V515.6M914.7,515.6H922.3M919.9,489.0V501.6M916.1,501.6H923.7M921.3,494.9V503.4M917.5,503.4H925.1M922.7,482.1V491.3M918.9,491.3H926.5M924.1,486.5V495.9M920.3,495.9H927.9M925.5,492.0V500.2M921.7,500.2H929.3M926.9,481.3V493.1M923.1,493.1H930.7M928.3,477.4V489.4M924.5,489.4H932.1M929.7,473.4V481.4M925.9,481.4H933.5M931.1,470.7V482.9M927.3,482.9H934.9M932.5,470.9V478.1M928.7,478.1H936.3M933.9,462.0V472.3M930.1,472.3H937.7M935.3,471.4V484.2M931.5,484.2H939.1M936.7,450.4V468.2M932.9,468.2H940.5M938.1,460.2V470.4M934.3,470.4H941.9M939.4,450.2V463.7M935.6,463.7H943.2M940.8,470.7V482.1M937.0,482.1H944.6M942.2,465.9V473.5M938.4,473.5H946.0M943.6,471.1V478.9M939.8,478.9H947.4M945.0,487.9V498.8M941.2,498.8H948.8M946.4,481.9V490.3M942.6,490.3H950.2M947.8,469.0V479.1M944.0,479.1H951.6M949.2,483.7V493.1M945.4,493.1H953.0M950.6,473.9V486.7M946.8,486.7H954.4M952.0,496.9V506.9M948.2,506.9H955.8M953.4,490.6V502.0M949.6,502.0H957.2M954.8,510.3V522.8M951.0,522.8H958.6M956.2,499.9V511.9M952.4,511.9H960.0M957.6,518.2V530.3M953.8,530.3H961.4M959.0,507.2V519.2M955.2,519.2H962.8M960.4,511.4V524.1M956.6,524.1H964.2M961.7,503.0V513.1M957.9,513.1H965.5M963.1,501.2V513.0M959.3,513.0H966.9M964.5,501.7V511.2M960.7,511.2H968.3M965.9,515.0V526.4M962.1,526.4H969.7M967.3,520.3V529.5M963.5,529.5H971.1M968.7,511.7V520.0M964.9,520.0H972.5M970.1,496.5V505.3M966.3,505.3H973.9M971.5,507.9V515.3M967.7,515.3H975.3M972.9,507.6V515.3M969.1,515.3H976.7M974.3,504.8V516.5M970.5,516.5H978.1M975.7,486.2V493.6M971.9,493.6H979.5M977.1,484.7V495.2M973.3,495.2H980.9M978.5,478.7V491.9M974.7,491.9H982.3M979.9,495.6V503.7M976.1,503.7H983.7M981.3,472.9V481.3M977.5,481.3H985.1M982.6,490.8V501.4M978.8,501.4H986.4M984.0,494.2V502.3M980.2,502.3H987.8M985.4,500.2V508.3M981.6,508.3H989.2M986.8,505.3V514.1M983.0,514.1H990.6M988.2,494.3V506.2M984.4,506.2H992.0M989.6,515.1V523.7M985.8,523.7H993.4M991.0,507.4V519.9M987.2,519.9H994.8M992.4,509.4V519.7M988.6,519.7H996.2M993.8,511.0V520.9M990.0,520.9H997.6M995.2,496.6V503.9M991.4,503.9H999.0M996.6,504.3V516.1M992.8,516.1H1000.4M998.0,503.0V513.2M994.2,513.2H1001.8M999.4,501.8V510.4M995.6,510.4H1003.2M1000.8,485.3V496.3M997.0,496.3H1004.6M1002.2,499.2V506.3M998.4,506.3H1006.0M1003.5,486.3V495.5M999.7,495.5H1007.3M1004.9,506.5V517.8M1001.1,517.8H1008.7M1006.3,506.9V514.8M1002.5,514.8H1010.1M1007.7,490.4V499.3M1003.9,499.3H1011.5M1009.1,490.9V503.1M1005.3,503.1H1012.9M1010.5,504.4V515.2M1006.7,515.2H1014.3M1011.9,500.6V509.2M1008.1,509.2H1015.7M1013.3,494.4V502.3M1009.5,502.3H1017.1M1014.7,498.7V505.7M1010.9,505.7H1018.5M1016.1,497.9V510.0M1012.3,510.0H1019.9M1017.5,499.5V507.0M1013.7,507.0H1021.3M1018.9,500.7V518.0M1015.1,518.0H1022.7M1020.3,504.2V514.1M1016.5,514.1H1024.1M1021.7,493.8V506.5M1017.9,506.5H1025.5M1023.1,496.1V508.2M1019.3,508.2H1026.9M1024.5,501.5V513.3M1020.7,513.3H1028.3M1025.8,481.1V499.6M1022.0,499.6H1029.6M1027.2,491.6V503.6M1023.4,503.6H1031.0M1028.6,488.8V499.0M1024.8,499.0H1032.4M1030.0,489.6V497.6M1026.2,497.6H1033.8M1031.4,487.6V496.5M1027.6,496.5H1035.2M1032.8,510.3V517.7M1029.0,517.7H1036.6M1034.2,497.6V507.4M1030.4,507.4H1038.0M1035.6,514.7V523.9M1031.8,523.9H1039.4M1037.0,507.7V515.4M1033.2,515.4H1040.8M1038.4,523.5V533.2M1034.6,533.2H1042.2M1039.8,503.4V515.4M1036.0,515.4H1043.6M1041.2,519.7V526.7M1037.4,526.7H1045.0M1042.6,497.1V508.4M1038.8,508.4H1046.4M1044.0,516.8V527.2M1040.2,527.2H1047.8M1045.4,510.5V517.6M1041.6,517.6H1049.2M1046.7,509.4V521.2M1042.9,521.2H1050.5M1048.1,488.1V498.8M1044.3,498.8H1051.9M1049.5,500.3V509.6M1045.7,509.6H1053.3M1050.9,488.9V497.7M1047.1,497.7H1054.7M1052.3,500.9V510.3M1048.5,510.3H1056.1M1053.7,504.8V513.3M1049.9,513.3H1057.5M1055.1,498.4V509.8M1051.3,509.8H1058.9M1056.5,499.3V512.0M1052.7,512.0H1060.3M1057.9,510.8V522.2M1054.1,522.2H1061.7" stroke-width="1.4"/></g><line x1="868" y1="348.4" x2="890" y2="348.4" stroke="#ff3a08" stroke-width="2"/><line x1="868" y1="379" x2="890" y2="379" stroke="#1143ff" stroke-width="2"/><text x="901.4" y="356.1" text-anchor="start" font-size="21.15" >Control</text><text x="901.4" y="389.5" text-anchor="start" font-size="21.15" >ChR2</text></g>
<g><path d="M214,790 L227.2,790 L230.2,880 C230.2,887 217.6,887 217.4,880 Z" fill="url(#gPoleB)"/><path d="M160,890 L174.5,896 L190.4,972 C191,979 178,980 176.6,973 Z" fill="url(#gPoleL)"/><path d="M288.5,892 L304.5,880 L281.6,966 C279.5,973 265,971 266,965 Z" fill="url(#gPoleR)"/><path fill="#fff" fill-rule="evenodd" stroke="#000" stroke-width="2.6" stroke-linejoin="round" d="M310.4,849.5 L309.9,854.2 L309.0,859.0 L307.8,863.6 L306.2,868.3 L304.3,872.8 L302.1,877.2 L299.6,881.6 L296.8,885.8 L293.7,889.8 L290.4,893.6 L286.8,897.3 L283.0,900.8 L279.0,904.0 L274.8,907.0 L270.4,909.8 L265.9,912.3 L261.2,914.5 L256.4,916.5 L251.5,918.2 L246.5,919.5 L241.4,920.6 L236.3,921.4 L231.2,921.8 L226.0,922.0 L220.8,921.8 L215.7,921.4 L210.6,920.6 L205.5,919.5 L200.5,918.2 L195.6,916.5 L190.8,914.5 L186.1,912.3 L181.6,909.8 L177.2,907.0 L173.0,904.0 L169.0,900.8 L165.2,897.3 L161.6,893.6 L158.3,889.8 L155.2,885.8 L152.4,881.6 L149.9,877.2 L147.7,872.8 L145.8,868.3 L144.2,863.6 L143.0,859.0 L142.1,854.2 L141.6,849.5 L141.4,844.8 L141.6,840.0 L142.2,835.4 L143.1,830.7 L144.5,826.2 L146.1,821.8 L148.2,817.4 L150.6,813.2 L153.4,809.2 L156.5,805.4 L159.9,801.7 L163.7,798.2 L167.7,795.0 L172.1,792.0 L176.7,789.2 L181.5,786.7 L186.6,784.5 L191.8,782.5 L197.3,780.8 L202.8,779.5 L208.5,778.4 L214.3,777.6 L220.1,777.2 L226.0,777.0 L231.9,777.2 L237.7,777.6 L243.5,778.4 L249.2,779.5 L254.7,780.8 L260.2,782.5 L265.4,784.5 L270.5,786.7 L275.3,789.2 L279.9,792.0 L284.3,795.0 L288.3,798.2 L292.1,801.7 L295.5,805.4 L298.6,809.2 L301.4,813.2 L303.8,817.4 L305.9,821.8 L307.5,826.2 L308.9,830.7 L309.8,835.4 L310.4,840.0 L310.6,844.8 Z M290.5,850.7 L289.8,854.4 L288.8,858.2 L287.6,861.9 L286.1,865.5 L284.4,869.1 L282.5,872.6 L280.4,876.0 L278.0,879.4 L275.5,882.5 L272.9,885.6 L270.0,888.5 L267.1,891.2 L264.0,893.8 L260.8,896.2 L257.5,898.3 L254.1,900.3 L250.6,902.1 L247.1,903.6 L243.5,905.0 L239.8,906.0 L236.1,906.9 L232.4,907.5 L228.7,907.9 L225.0,908.0 L221.3,907.9 L217.6,907.5 L213.9,906.9 L210.2,906.0 L206.5,905.0 L202.9,903.6 L199.4,902.1 L195.9,900.3 L192.5,898.3 L189.2,896.2 L186.0,893.8 L182.9,891.2 L180.0,888.5 L177.1,885.6 L174.5,882.5 L172.0,879.4 L169.6,876.0 L167.5,872.6 L165.6,869.1 L163.9,865.5 L162.4,861.9 L161.2,858.2 L160.2,854.4 L159.5,850.7 L159.1,847.0 L159.0,843.2 L159.1,839.5 L159.6,835.9 L160.4,832.3 L161.5,828.8 L162.9,825.4 L164.6,822.1 L166.6,818.9 L168.9,815.8 L171.5,812.9 L174.4,810.2 L177.6,807.6 L181.0,805.2 L184.7,803.1 L188.6,801.1 L192.7,799.3 L196.9,797.8 L201.4,796.4 L205.9,795.4 L210.6,794.5 L215.3,793.9 L220.2,793.5 L225.0,793.4 L229.8,793.5 L234.7,793.9 L239.4,794.5 L244.1,795.4 L248.6,796.4 L253.1,797.8 L257.3,799.3 L261.4,801.1 L265.3,803.1 L269.0,805.2 L272.4,807.6 L275.6,810.2 L278.5,812.9 L281.1,815.8 L283.4,818.9 L285.4,822.1 L287.1,825.4 L288.5,828.8 L289.6,832.3 L290.4,835.9 L290.9,839.5 L291.0,843.2 L290.9,847.0 Z"/><path d="M162.6,759.3 C160.6,760.2 154.2,761.7 150.4,764.6 C146.6,767.5 142.9,771.5 139.8,776.8 C136.7,782.0 133.8,789.7 131.9,796.1 C130.0,802.5 128.7,809.5 128.4,815.4 C128.1,821.2 129.5,827.2 130.2,831.2 C130.9,835.2 131.8,836.5 132.7,839.5 C133.6,842.5 134.5,845.6 135.6,849.2 C136.7,852.8 138.2,857.1 139.5,860.9 C140.8,864.6 141.8,868.0 143.4,871.7 C145.0,875.5 147.1,879.8 149.2,883.4 C151.3,887.0 154.3,890.8 156.1,893.1 C157.9,895.4 159.3,896.4 160.0,897.0L166.8,899.9L177.5,890.7 C175.7,889.5 169.2,885.4 166.8,883.4 C164.4,881.4 164.2,882.2 162.9,878.5 C161.6,874.8 160.0,865.8 159.0,860.9 C158.0,856.0 158.0,852.8 157.0,849.2 C156.0,845.6 154.1,843.1 153.1,839.5 C152.1,835.9 151.6,832.0 151.0,827.7 C150.4,823.4 149.4,819.6 149.5,813.7 C149.6,807.9 150.2,799.0 151.6,792.6 C153.0,786.2 155.8,779.8 158.0,775.1 C160.2,770.4 163.6,766.4 164.7,764.6Z" fill="#3a3a3a" /><path d="M132.7,839.5 C133.2,841.1 134.5,845.6 135.6,849.2 C136.7,852.8 138.2,857.1 139.5,860.9 C140.8,864.6 141.8,868.0 143.4,871.7 C145.0,875.5 147.1,879.8 149.2,883.4 C151.3,887.0 154.3,890.8 156.1,893.1 C157.9,895.4 159.3,896.4 160.0,897.0L159.0,890.2 C158.5,888.2 157.1,882.4 156.1,878.5 C155.1,874.6 154.1,870.5 153.1,866.8 C152.1,863.1 151.8,859.2 150.2,856.1 C148.6,853.0 146.0,850.4 143.4,848.3 C140.8,846.2 136.1,844.2 134.6,843.4Z" fill="url(#gLowL)" /><polygon points="152.2,839.5 158,843.4 172.6,851.2 179,888.2 177.5,890.7 166.0,883.8 161.5,878.5 157.5,860.9 155.5,849.2 152.5,840.5" fill="#000" stroke="#000" stroke-width="0.8"/><path d="M170.5,762.8L179.4,806.8L177.7,806.8 C176.9,807.4 174.6,809.2 173.2,810.4 C171.9,811.6 170.7,812.8 169.6,814.0 C168.5,815.2 167.6,816.5 166.7,817.7 C165.8,818.9 165.0,820.1 164.3,821.3 C163.6,822.5 163.0,823.7 162.4,824.9 C161.8,826.1 161.3,827.3 160.9,828.5 C160.5,829.7 160.1,830.9 159.8,832.1 C159.5,833.3 159.2,834.6 159.0,835.8 C158.8,837.0 158.6,838.2 158.5,839.4 C158.4,840.6 158.4,842.4 158.4,843.0L158.0,843.4 C157.0,842.4 153.7,839.6 152.2,837.5 C150.7,835.4 150.0,833.6 149.2,830.7 C148.4,827.8 148.0,824.1 147.6,820.0 C147.2,815.9 146.6,810.6 146.8,806.0 C147.0,801.4 147.3,797.7 148.8,792.6 C150.3,787.5 152.9,780.2 155.6,775.6 C158.2,771.0 163.2,766.9 164.7,765.2Z" fill="url(#gInL)" stroke="#111" stroke-width="1.1" stroke-linejoin="miter"/><path d="M169.8,762.4 L170.9,762.9 L179.4,806.8" stroke="#000" stroke-width="2.6" fill="none" stroke-linejoin="miter"/><path d="M287.4,757.5 C289.4,758.4 295.8,759.9 299.6,762.8 C303.4,765.7 307.1,770.1 310.2,775.1 C313.3,780.1 316.1,786.2 318.1,792.6 C320.1,799.0 321.6,807.8 322.1,813.7 C322.6,819.6 322.1,823.5 321.3,827.8 C320.5,832.1 318.7,835.9 317.4,839.5 C316.1,843.1 314.5,846.0 313.5,849.2 C312.5,852.5 312.5,855.4 311.5,859.0 C310.5,862.6 309.2,866.8 307.6,870.7 C306.0,874.6 303.8,879.1 301.8,882.4 C299.9,885.6 297.8,887.9 295.9,890.2 C293.9,892.5 292.1,894.5 290.1,896.0 C288.2,897.5 285.2,898.8 284.2,899.4L273.0,891.2 C273.2,890.9 272.8,890.7 274.5,889.2 C276.2,887.7 281.2,884.8 283.3,882.4 C285.4,880.0 285.9,878.2 287.2,874.6 C288.5,871.0 289.8,865.1 291.1,860.9 C292.4,856.7 294.4,852.8 295.0,849.2 C295.6,845.6 294.2,842.8 294.5,839.5 C294.8,836.2 295.9,834.0 296.5,829.7 C297.1,825.4 298.1,819.3 298.0,813.7 C297.9,808.1 297.3,802.0 296.0,796.1 C294.7,790.2 292.3,783.9 290.4,778.6 C288.5,773.4 285.6,766.9 284.7,764.6Z" fill="#3a3a3a" /><path d="M317.4,839.5 C316.8,841.1 314.5,846.0 313.5,849.2 C312.5,852.5 312.5,855.4 311.5,859.0 C310.5,862.6 309.2,866.8 307.6,870.7 C306.0,874.6 303.8,879.1 301.8,882.4 C299.9,885.6 297.8,887.9 295.9,890.2 C293.9,892.5 291.1,895.0 290.1,896.0L289.6,895.5 C289.9,894.6 290.2,893.0 291.1,890.2 C292.0,887.4 293.9,882.4 295.0,878.5 C296.1,874.6 296.9,871.0 297.9,866.8 C298.9,862.6 299.5,856.2 300.8,853.1 C302.1,850.0 303.6,850.4 305.7,848.3 C307.8,846.2 312.2,841.8 313.5,840.5Z" fill="url(#gLowR)" /><polygon points="301.8,830.7 292,841.4 290.1,843.4 278.4,849.2 271.1,888.2 273,890.9 274.5,889.2 283.3,882.4 287.2,874.6 291.1,860.9 295,849.2 297.9,839.5 302.8,829.7" fill="#000" stroke="#000" stroke-width="0.8"/><path d="M279.5,761.1L271.0,806.0L271.2,806.0 C272.0,806.6 274.5,808.4 275.9,809.6 C277.3,810.8 278.5,812.0 279.6,813.2 C280.7,814.4 281.7,815.6 282.7,816.8 C283.6,818.0 284.4,819.2 285.2,820.4 C285.9,821.6 286.6,822.8 287.2,824.0 C287.8,825.2 288.3,826.4 288.8,827.6 C289.2,828.8 289.6,830.0 290.0,831.2 C290.3,832.4 290.6,833.6 290.8,834.8 C291.1,836.0 291.2,837.2 291.4,838.4 C291.5,839.6 291.6,841.4 291.6,842.0L292.5,842.0 C293.4,840.8 296.3,838.0 297.9,834.7 C299.5,831.5 301.2,827.2 302.0,822.5 C302.8,817.8 303.1,811.7 302.8,806.7 C302.6,801.7 301.9,797.5 300.5,792.6 C299.1,787.7 297.0,781.7 294.4,777.2 C291.8,772.7 286.3,767.5 284.7,765.6Z" fill="url(#gInR)" stroke="#111" stroke-width="1.1" stroke-linejoin="miter"/><path d="M280.3,760.7 L279.2,761.2 L271.0,806.0" stroke="#000" stroke-width="2.6" fill="none" stroke-linejoin="miter"/><path d="M247.5,721.5 C236,723 226.5,733 222.5,747 C217.5,764 218,780 219.3,793.3 C220.3,802 221.8,810 223.7,817.9 C225.8,826.8 228.6,835.5 230.7,844.2 C232.7,852.3 234.4,860.5 235.1,868.8 C235.6,874.7 236.2,881 235.1,886.3 C234,891.3 230,895.5 227.2,898.6" fill="none" stroke="#f0982a" stroke-width="1.4"/><g transform="translate(204.4,886.05) scale(0.06155)" stroke-linejoin="round" stroke-linecap="round"><path d="M815,350 C870,345 930,380 950,425 C962,470 925,510 880,520 C800,538 690,530 600,530 C540,528 470,512 420,514 C370,516 330,530 320,555 C316,570 325,585 340,592" fill="none" stroke="#9a6a4c" stroke-width="20"/><path d="M185,290 C190,268 210,255 232,245 C262,226 295,205 330,192 C360,184 395,186 425,196 C450,202 465,200 482,198 C530,190 580,186 622,192 C665,198 700,215 722,232 C750,255 772,280 792,302 C812,322 830,335 828,352 C826,372 812,384 800,392 C785,408 765,422 742,430 C722,440 700,452 680,446 C665,440 660,425 650,415 C630,402 612,398 598,402 C570,408 545,415 520,422 C495,432 468,446 440,446 C420,444 400,432 385,422 C360,428 325,436 302,428 C298,418 330,410 352,408 C345,392 338,375 330,362 C300,355 268,348 240,336 C215,332 192,315 185,290 Z" fill="#cda47c" stroke="#7b5836" stroke-width="13"/><path d="M600,400 C585,370 590,335 610,310 M385,420 C395,405 410,398 425,398" fill="none" stroke="#a9805a" stroke-width="9"/><path d="M375,222 C385,190 425,170 455,195 C470,212 455,250 425,262 C400,268 380,250 375,222 Z" fill="#d2ab86" stroke="#7b5836" stroke-width="11"/><circle cx="282" cy="264" r="12" fill="#2a1a10"/><path d="M186,280 C192,300 200,318 214,326" fill="none" stroke="#4a3018" stroke-width="18"/><ellipse cx="680" cy="436" rx="26" ry="16" fill="#6e5238"/></g><text x="130.5" y="718.3" text-anchor="middle" font-size="21.15" >Open</text><text x="131.0" y="744.2" text-anchor="middle" font-size="21.15" >zones</text><text x="50.5" y="799.5" text-anchor="middle" font-size="21.15" >Closed</text><text x="50.5" y="825.3" text-anchor="middle" font-size="21.15" >zones</text><text x="249.0" y="728.8" text-anchor="start" font-size="21.15" >Laser</text><line x1="171.4" y1="734.6" x2="186.4" y2="757.9" stroke="#000" stroke-width="2.8"/><path d="M199.2,777.6 Q187.4,765.3 174.4,757.3 L186.4,757.9 L190.9,746.7 Q192.8,761.8 199.2,777.6 Z" fill="#000"/><line x1="89.0" y1="807.4" x2="113.2" y2="825.2" stroke="#000" stroke-width="2.8"/><path d="M132.1,839.1 Q116.7,831.8 101.7,828.9 L113.2,825.2 L113.3,813.1 Q120.5,826.6 132.1,839.1 Z" fill="#000"/></g>
<g><g stroke="#000" stroke-width="2.8" fill="none"><line x1="422.8" y1="703.3" x2="422.8" y2="961.0"/><line x1="404.2" y1="959.6" x2="748.8" y2="959.6"/><line x1="409.2" y1="704.7" x2="422.8" y2="704.7"/><line x1="409.2" y1="789.8" x2="422.8" y2="789.8"/><line x1="409.2" y1="874.8" x2="422.8" y2="874.8"/><line x1="409.2" y1="959.6" x2="422.8" y2="959.6"/><line x1="501" y1="959.6" x2="501" y2="980.6"/><line x1="651.6" y1="959.6" x2="651.6" y2="980.6"/></g><text x="401.2" y="712.1" text-anchor="end" font-size="21.15" >30</text><text x="401.2" y="797.9" text-anchor="end" font-size="21.15" >20</text><text x="401.7" y="883.8" text-anchor="end" font-size="21.15" >10</text><text x="402.2" y="970.3" text-anchor="end" font-size="21.15" >0</text><text x="500.6" y="1004.9" text-anchor="middle" font-size="21.15" >Control</text><text x="652.3" y="1004.9" text-anchor="middle" font-size="21.15" >ChR2</text><text transform="translate(366.5,833.0) rotate(-90)" text-anchor="middle" font-size="21.15">Open zone time (%)</text><g stroke="#ef7479" fill="none" stroke-width="2.5"><circle cx="469.1" cy="774.7" r="5.15"/><circle cx="458.9" cy="866.2" r="5.15"/><circle cx="479.6" cy="868.4" r="5.15"/><circle cx="458.9" cy="877.1" r="5.15"/><circle cx="448.0" cy="892.9" r="5.15"/><circle cx="467.9" cy="892.1" r="5.15"/><circle cx="489.0" cy="902.3" r="5.15"/><circle cx="448.0" cy="909.8" r="5.15"/></g><g stroke="#7d7fef" fill="none" stroke-width="2.5"><circle cx="620.7" cy="735.2" r="5.15"/><circle cx="620.7" cy="760.0" r="5.15"/><circle cx="620.0" cy="810.5" r="5.15"/><circle cx="619.6" cy="836.4" r="5.15"/><circle cx="609.4" cy="857.5" r="5.15"/><circle cx="630.5" cy="855.2" r="5.15"/><circle cx="621.5" cy="868.8" r="5.15"/><circle cx="600.4" cy="877.4" r="5.15"/><circle cx="640.3" cy="876.3" r="5.15"/><circle cx="620.7" cy="918.1" r="5.15"/><circle cx="620.7" cy="931.6" r="5.15"/></g><g stroke="#ee0010" fill="none"><line x1="524.4" y1="856.7" x2="524.4" y2="882.7" stroke-width="2.5"/><line x1="502.8" y1="856.7" x2="546.0" y2="856.7" stroke-width="2.5"/><line x1="502.8" y1="882.7" x2="546.0" y2="882.7" stroke-width="2.6"/><line x1="507.5" y1="869.5" x2="541.2" y2="869.5" stroke-width="5.8"/></g><g stroke="#0a0ae0" fill="none"><line x1="677.9" y1="829.7" x2="677.9" y2="867.7" stroke-width="2.5"/><line x1="656.2" y1="829.7" x2="699.5" y2="829.7" stroke-width="2.5"/><line x1="656.2" y1="867.7" x2="699.5" y2="867.7" stroke-width="2.6"/><line x1="661.0" y1="848.8" x2="694.8" y2="848.8" stroke-width="5.8"/></g></g>
<g><g stroke="#000" stroke-width="2.8" fill="none"><line x1="864.0" y1="702.3" x2="864.0" y2="961.0"/><line x1="848.5" y1="959.6" x2="1185.8" y2="959.6"/><line x1="848.5" y1="703.7" x2="864.0" y2="703.7"/><line x1="848.5" y1="831.4" x2="864.0" y2="831.4"/><line x1="848.5" y1="959.6" x2="864.0" y2="959.6"/><line x1="944.3" y1="959.6" x2="944.3" y2="979.9"/><line x1="1095" y1="959.6" x2="1095" y2="979.9"/></g><text x="843.2" y="712.8" text-anchor="end" font-size="21.15" >40</text><text x="843.2" y="841.1" text-anchor="end" font-size="21.15" >20</text><text x="843.2" y="968.0" text-anchor="end" font-size="21.15" >0</text><text x="943.8" y="1005.1" text-anchor="middle" font-size="21.15" >Control</text><text x="1095.8" y="1005.1" text-anchor="middle" font-size="21.15" >ChR2</text><text transform="translate(781.5,831.0) rotate(-90)" text-anchor="middle" font-size="21.15">Open zone entries</text><text transform="translate(806.4,831.0) rotate(-90)" text-anchor="middle" font-size="21.15">(per 10 min)</text><g stroke="#ef7479" fill="none" stroke-width="2.5"><circle cx="901.4" cy="857.7" r="5.15"/><circle cx="922.5" cy="852.0" r="5.15"/><circle cx="911.7" cy="869.2" r="5.15"/><circle cx="890.3" cy="882.7" r="5.15"/><circle cx="912.1" cy="883.4" r="5.15"/><circle cx="933.6" cy="883.4" r="5.15"/><circle cx="922.5" cy="916.0" r="5.15"/><circle cx="901.8" cy="922.5" r="5.15"/></g><g stroke="#7d7fef" fill="none" stroke-width="2.5"><circle cx="1076.6" cy="774.2" r="5.15"/><circle cx="1055.5" cy="779.9" r="5.15"/><circle cx="1065.8" cy="799.5" r="5.15"/><circle cx="1065.8" cy="825.2" r="5.15"/><circle cx="1065.8" cy="850.8" r="5.15"/><circle cx="1045.5" cy="858.1" r="5.15"/><circle cx="1086.9" cy="858.1" r="5.15"/><circle cx="1065.8" cy="870.0" r="5.15"/><circle cx="1076.6" cy="896.1" r="5.15"/><circle cx="1055.1" cy="903.0" r="5.15"/><circle cx="1065.1" cy="928.3" r="5.15"/></g><g stroke="#ee0010" fill="none"><line x1="973.1" y1="876.5" x2="973.1" y2="893.4" stroke-width="2.5"/><line x1="951.5" y1="876.5" x2="994.8" y2="876.5" stroke-width="2.5"/><line x1="951.5" y1="893.4" x2="994.8" y2="893.4" stroke-width="2.6"/><line x1="956.2" y1="884.9" x2="990.0" y2="884.9" stroke-width="5.8"/></g><g stroke="#0a0ae0" fill="none"><line x1="1127.2" y1="833.2" x2="1127.2" y2="866.2" stroke-width="2.5"/><line x1="1105.5" y1="833.2" x2="1148.9" y2="833.2" stroke-width="2.5"/><line x1="1105.5" y1="866.2" x2="1148.9" y2="866.2" stroke-width="2.6"/><line x1="1110.4" y1="849.7" x2="1144.0" y2="849.7" stroke-width="5.8"/></g></g>
<text x="16.3" y="30.1" font-size="24.8" font-weight="bold" stroke="#000" stroke-width="1.2" stroke-linejoin="round">A</text>
<text x="507.8" y="29.2" font-size="24.8" font-weight="bold" stroke="#000" stroke-width="1.2" stroke-linejoin="round">B</text>
<text x="16.3" y="325.2" font-size="24.8" font-weight="bold" stroke="#000" stroke-width="1.2" stroke-linejoin="round">C</text>
<text x="360.5" y="323.6" font-size="24.8" font-weight="bold" stroke="#000" stroke-width="1.2" stroke-linejoin="round">D</text>
<text x="757.5" y="324.7" font-size="24.8" font-weight="bold" stroke="#000" stroke-width="1.2" stroke-linejoin="round">E</text>
<text x="16.3" y="671.4" font-size="24.8" font-weight="bold" stroke="#000" stroke-width="1.2" stroke-linejoin="round">F</text>
<text x="349.0" y="671.4" font-size="24.8" font-weight="bold" stroke="#000" stroke-width="1.2" stroke-linejoin="round">G</text>
<text x="766.5" y="671.0" font-size="24.8" font-weight="bold" stroke="#000" stroke-width="1.2" stroke-linejoin="round">H</text>
</svg>
</body>
</html>
